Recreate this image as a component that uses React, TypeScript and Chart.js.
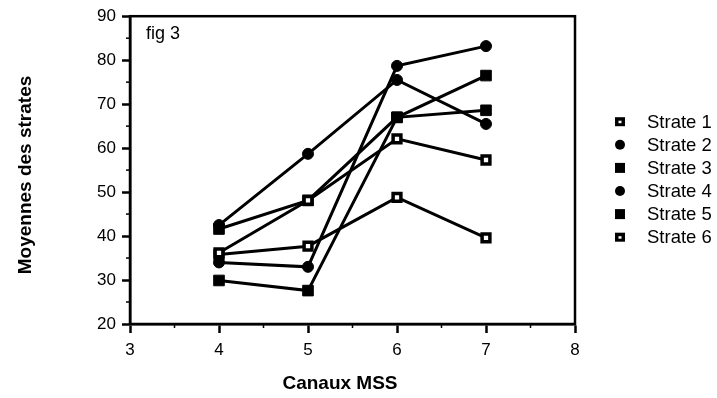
import React, { useEffect, useRef } from "react";
import { Chart, registerables } from "chart.js";

Chart.register(...registerables);

const channels = [4, 5, 6, 7];
const strate1 = [36.2, 48.1, 62.1, 57.3];
const strate2 = [42.5, 58.7, 75.5, 65.5];
const strate3 = [41.6, 48.1, 67, 76.5];
const strate4 = [34, 33, 78.7, 83.2];
const strate5 = [29.9, 27.6, 67, 68.6];
const strate6 = [35.8, 37.7, 48.8, 39.6];
const seriesNames = ["Strate 1", "Strate 2", "Strate 3", "Strate 4", "Strate 5", "Strate 6"];
const seriesValues = [strate1, strate2, strate3, strate4, strate5, strate6];
const markerKinds = ["openSquare", "circle", "square", "circle", "square", "openSquare"];
const xAxisTitle = "Canaux MSS";
const yAxisTitle = "Moyennes des strates";
const figLabel = "fig 3";

const FONT = "'Liberation Sans', Arial, Helvetica, sans-serif";

function styleFor(kind: string) {
  if (kind === "circle") {
    return { pointStyle: "circle", pointRadius: 5.5, pointBackgroundColor: "#000", pointBorderWidth: 1 };
  }
  if (kind === "square") {
    return { pointStyle: "rect", pointRadius: 7.5, pointBackgroundColor: "#000", pointBorderWidth: 1 };
  }
  return { pointStyle: "rect", pointRadius: 5.5, pointBackgroundColor: "#fff", pointBorderWidth: 3.5 };
}

const decorPlugin = {
  id: "decor",
  afterDraw(chart: any) {
    const ctx = chart.ctx as CanvasRenderingContext2D;
    const area = chart.chartArea;
    const xs = chart.scales.x;
    const ys = chart.scales.y;
    ctx.save();
    // frame
    ctx.strokeStyle = "#000";
    ctx.lineWidth = 2.5;
    ctx.strokeRect(area.left, area.top, area.right - area.left, area.bottom - area.top);
    // minor ticks
    ctx.lineWidth = 1.5;
    for (let v = 3.5; v < 8; v += 1) {
      const px = xs.getPixelForValue(v);
      ctx.beginPath();
      ctx.moveTo(px, area.bottom);
      ctx.lineTo(px, area.bottom + 4);
      ctx.stroke();
    }
    for (let v = 25; v < 90; v += 10) {
      const py = ys.getPixelForValue(v);
      ctx.beginPath();
      ctx.moveTo(area.left, py);
      ctx.lineTo(area.left - 4, py);
      ctx.stroke();
    }
    // fig label
    ctx.fillStyle = "#000";
    ctx.font = `18px ${FONT}`;
    ctx.textAlign = "left";
    ctx.textBaseline = "alphabetic";
    ctx.fillText(figLabel, area.left + 16, area.top + 23);
    // axis titles
    ctx.font = `bold 19px ${FONT}`;
    ctx.textAlign = "center";
    ctx.textBaseline = "middle";
    ctx.fillText(xAxisTitle, 340, 384);
    ctx.save();
    ctx.translate(26, 175);
    ctx.rotate(-Math.PI / 2);
    ctx.fillText(yAxisTitle, 0, 0);
    ctx.restore();
    // legend
    ctx.font = `18.5px ${FONT}`;
    ctx.textAlign = "left";
    ctx.textBaseline = "middle";
    seriesNames.forEach((name, i) => {
      const y = 121.7 + 23.1 * i;
      const x = 620;
      const kind = markerKinds[i];
      ctx.fillStyle = "#000";
      if (kind === "circle") {
        ctx.beginPath();
        ctx.arc(x, y, 5, 0, Math.PI * 2);
        ctx.fill();
      } else if (kind === "square") {
        ctx.fillRect(x - 5, y - 5, 10, 10);
      } else {
        ctx.fillRect(x - 5, y - 4.5, 10, 9);
        ctx.fillStyle = "#fff";
        ctx.fillRect(x - 1.5, y - 1, 3, 2.5);
      }
      ctx.fillStyle = "#000";
      ctx.fillText(name, 647, y + 1);
    });
    ctx.restore();
  },
};

export default function App() {
  const canvasRef = useRef<HTMLCanvasElement | null>(null);

  useEffect(() => {
    if (!canvasRef.current) return;
    Chart.defaults.font.family = FONT;
    Chart.defaults.color = "#000";
    const datasets = seriesNames.map((name, i) => ({
      label: name,
      data: channels.map((c, j) => ({ x: c, y: seriesValues[i][j] })),
      borderColor: "#000",
      borderWidth: 3,
      pointBorderColor: "#000",
      fill: false,
      tension: 0,
      ...styleFor(markerKinds[i]),
    }));
    const chart = new Chart(canvasRef.current, {
      type: "line",
      data: { datasets },
      options: {
        animation: false,
        responsive: true,
        maintainAspectRatio: false,
        layout: { padding: { left: 0, right: 142, top: 13, bottom: 0 } },
        plugins: { legend: { display: false }, tooltip: { enabled: false } },
        scales: {
          x: {
            type: "linear",
            min: 3,
            max: 8,
            ticks: { stepSize: 1, font: { size: 17 }, padding: 7, color: "#000" },
            grid: { drawOnChartArea: false, drawTicks: true, tickLength: 9, tickWidth: 2.5, tickColor: "#000" },
            border: { display: true, color: "#000", width: 2.5 },
            afterFit: (s: any) => { s.height = 74; },
          },
          y: {
            type: "linear",
            min: 20,
            max: 90,
            ticks: { stepSize: 10, font: { size: 17 }, padding: 6, color: "#000" },
            grid: { drawOnChartArea: false, drawTicks: true, tickLength: 8, tickWidth: 2.5, tickColor: "#000" },
            border: { display: true, color: "#000", width: 2.5 },
            afterFit: (s: any) => { s.width = 130; },
          },
        },
      } as any,
      plugins: [decorPlugin],
    });
    return () => chart.destroy();
  }, []);

  return (
    <div style={{ position: "absolute", left: 0, top: 0, width: 717, height: 398, background: "#fff" }}>
      <canvas ref={canvasRef} />
    </div>
  );
}
